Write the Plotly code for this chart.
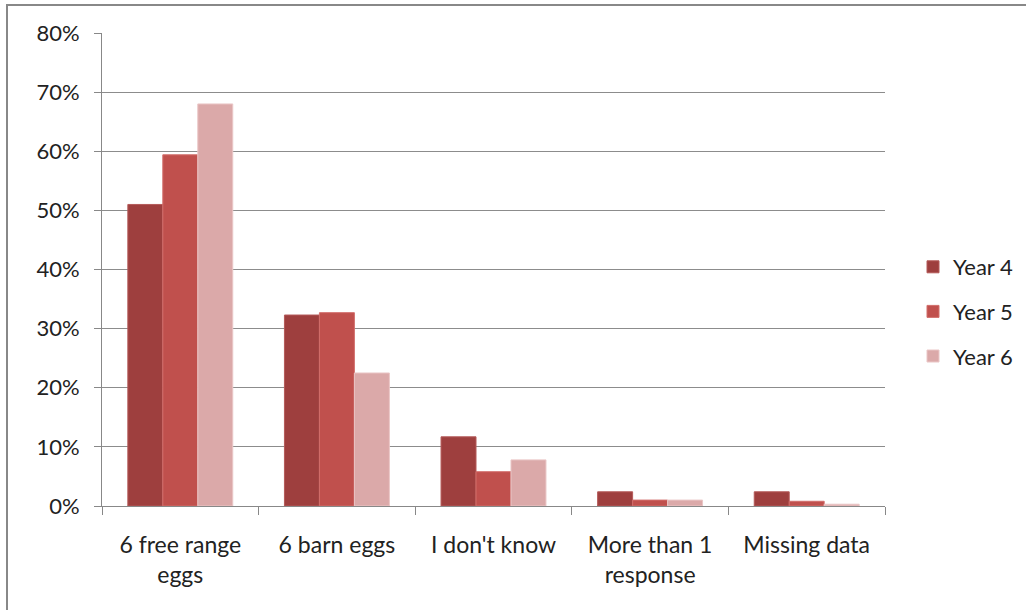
import plotly.graph_objects as go

categories = ["6 free range<br>eggs", "6 barn eggs", "I don't know", "More than 1<br>response", "Missing data"]
year4 = [0.51, 0.323, 0.117, 0.024, 0.024]
year5 = [0.594, 0.327, 0.058, 0.010, 0.008]
year6 = [0.680, 0.225, 0.078, 0.010, 0.003]
series_names = ["Year 4", "Year 5", "Year 6"]
colors = ["#9E3F3E", "#C0504D", "#DBA9A9"]
outline = ["#B45A59", "#D26E6B", "#EAC6C6"]

fig = go.Figure()
for name, vals, c, oc in zip(series_names, [year4, year5, year6], colors, outline):
    fig.add_trace(go.Bar(x=categories, y=vals, name=name, legendgroup=name,
                         marker=dict(color=c, line=dict(color=oc, width=1))))

W, H = 1026, 610
L, R, T, B = 102, 141, 33, 104
pw = W - L - R
ph = H - T - B

fig.update_layout(
    width=W, height=H,
    margin=dict(l=L, r=R, t=T, b=B, autoexpand=False),
    paper_bgcolor="white", plot_bgcolor="white",
    barmode="group", bargap=0.33, bargroupgap=0,
    font=dict(family="Lato, Open Sans, sans-serif", size=22, color="#222222"),
    showlegend=True,
    legend=dict(x=(913 - L) / pw, y=(T + ph - 246) / ph, xanchor="left", yanchor="top",
                font=dict(size=22), itemwidth=30, tracegroupgap=13,
                bgcolor="rgba(0,0,0,0)"),
    xaxis=dict(showgrid=False, showline=True, linecolor="#888888", linewidth=1,
               ticks="outside", ticklen=8, tickcolor="#888888", tickson="boundaries",
               tickfont=dict(size=23), ticklabelstandoff=18, automargin=False),
    yaxis=dict(range=[0, 0.8], dtick=0.1, tickformat=".0%", showgrid=True, gridcolor="#8C8C8C",
               gridwidth=1, showline=True, linecolor="#888888", linewidth=1,
               ticks="outside", ticklen=7, tickcolor="#888888", zeroline=False,
               tickfont=dict(size=22), ticklabelstandoff=10, automargin=False),
    shapes=[dict(type="rect", xref="paper", yref="paper",
                 x0=(7 - L) / pw, x1=(1030 - L) / pw,
                 y0=(T + ph - 620) / ph, y1=(T + ph - 5) / ph,
                 line=dict(color="#888888", width=2), layer="below")],
)
fig.write_html("out.html", config={"displayModeBar": False},
               post_script="document.body.style.margin='0';")
